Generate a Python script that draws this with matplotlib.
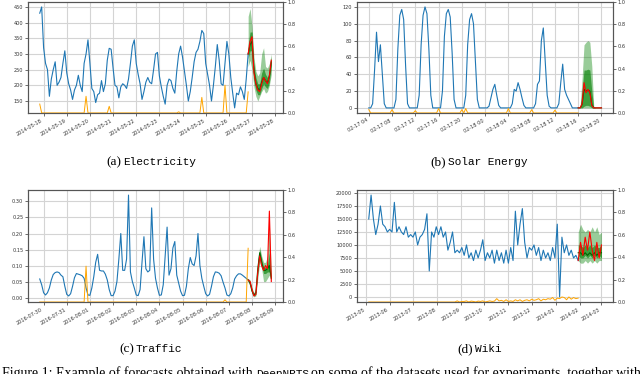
import pandas as pd
import matplotlib.pyplot as plt
import matplotlib.dates as mdates
from matplotlib.ticker import MultipleLocator

# ---- (a) Electricity, 2-hourly ----
elec = [430, 450, 320, 270, 250, 165, 220, 250, 275, 200,
        210, 225, 270, 310, 240, 205, 185, 155, 185, 200,
        232, 200, 180, 270, 300, 345, 270, 190, 180, 145,
        170, 175, 215, 180, 205, 280, 318, 315, 255, 200,
        195, 160, 195, 205, 200, 190, 220, 270, 325, 345,
        270, 235, 205, 155, 180, 210, 225, 210, 205, 250,
        300, 305, 230, 195, 165, 140, 200, 220, 215, 190,
        175, 245, 300, 325, 290, 245, 200, 150, 180, 225,
        275, 305, 315, 340, 375, 365, 270, 235, 200, 150,
        200, 260, 330, 280, 205, 200, 270, 340, 300, 225,
        175, 128, 175, 170, 195, 180, 155, 220, 300]
elec_truth = [300, 340, 355, 240, 205, 185, 180, 205, 225, 215, 205, 230, 280]
elec_med = [300, 330, 340, 250, 205, 190, 185, 210, 225, 215, 208, 228, 275]
elec_hi90 = [420, 445, 390, 290, 245, 230, 240, 300, 320, 260, 255, 270, 300]
elec_lo90 = [260, 280, 250, 195, 165, 150, 165, 180, 190, 175, 180, 200, 235]
elec_hi50 = [330, 370, 370, 265, 225, 205, 205, 240, 255, 235, 225, 245, 290]
elec_lo50 = [285, 310, 310, 215, 185, 170, 170, 190, 205, 195, 190, 210, 260]
elec_attn_at = ['2014-05-17 20:00', '2014-05-19 20:00', '2014-05-20 20:00', '2014-05-23 20:00',
                '2014-05-24 20:00', '2014-05-25 20:00', '2014-05-26 20:00']
elec_attn = [0.08, 0.15, 0.06, 0.01, 0.14, 0.25, 0.19]

# ---- (b) Solar Energy, 20-minute ----
solar = [0, 0, 5, 45, 90, 55, 75, 40, 5, 0, 0, 0, 0, 0,
         10, 70, 110, 117, 105, 50, 5, 0, 0, 0, 0, 0,
         15, 75, 110, 120, 112, 70, 15, 0, 0, 0, 0, 0,
         20, 85, 112, 117, 108, 65, 10, 0, 0, 0, 0, 0,
         15, 75, 105, 112, 100, 55, 10, 0, 0, 0, 0, 0,
         2, 12, 22, 28, 15, 3, 0, 0, 0, 0, 0, 0,
         5, 22, 20, 30, 22, 12, 3, 0, 0, 0, 0, 0,
         5, 28, 32, 80, 95, 55, 15, 2, 0, 0, 0, 0,
         5, 30, 52, 22, 15, 10, 5, 0, 0, 0, 0]
solar_truth = [0, 0, 5, 30, 18, 22, 18, 3, 0, 0, 0, 0, 0]
solar_med = [0, 0, 4, 22, 20, 21, 20, 4, 0, 0, 0, 0, 0]
solar_hi90 = [0, 2, 35, 75, 78, 80, 78, 50, 2, 0, 0, 0, 0]
solar_lo90 = [0, 0, 0, 0, 0, 0, 0, 0, 0, 0, 0, 0, 0]
solar_hi50 = [0, 0, 20, 45, 45, 46, 45, 20, 0, 0, 0, 0, 0]
solar_lo50 = [0, 0, 0, 2, 3, 3, 2, 0, 0, 0, 0, 0, 0]
solar_attn_at = ['2018-02-17 04:00', '2018-02-17 08:00', '2018-02-17 12:00', '2018-02-17 16:00',
                 '2018-02-17 20:00', '2018-02-17 20:40', '2018-02-18 04:00', '2018-02-18 08:00',
                 '2018-02-18 12:00']
solar_attn = [0.03, 0.03, 0.02, 0.04, 0.03, 0.04, 0.04, 0.03, 0.025]

# ---- (c) Traffic, 2-hourly ----
traffic = [0.058, 0.04, 0.015, 0.008, 0.015, 0.03, 0.055, 0.072, 0.078, 0.08,
           0.078, 0.07, 0.065, 0.035, 0.01, 0.005, 0.012, 0.035, 0.062, 0.075,
           0.073, 0.071, 0.068, 0.06, 0.03, 0.008, 0.007, 0.03, 0.065, 0.11,
           0.135, 0.085, 0.083, 0.083, 0.073, 0.055, 0.025, 0.006, 0.006, 0.02,
           0.05, 0.12, 0.2, 0.085, 0.085, 0.12, 0.32, 0.08, 0.05, 0.03,
           0.008, 0.006, 0.025, 0.11, 0.19, 0.09, 0.08, 0.085, 0.28, 0.12,
           0.06, 0.03, 0.007, 0.008, 0.04, 0.13, 0.22, 0.07, 0.09, 0.155,
           0.175, 0.07, 0.045, 0.02, 0.006, 0.007, 0.035, 0.09, 0.125, 0.105,
           0.1, 0.13, 0.2, 0.1, 0.06, 0.035, 0.012, 0.005, 0.01, 0.035,
           0.065, 0.08, 0.079, 0.076, 0.068, 0.048, 0.03, 0.008, 0.005, 0.012,
           0.03, 0.058, 0.068, 0.074, 0.074, 0.07, 0.065, 0.06, 0.055]
traffic_truth = [0.055, 0.05, 0.025, 0.005, 0.01, 0.08, 0.13, 0.1, 0.085, 0.1, 0.09, 0.27, 0.05]
traffic_med = [0.055, 0.045, 0.02, 0.008, 0.015, 0.09, 0.14, 0.11, 0.085, 0.085, 0.09, 0.1, 0.06]
traffic_hi90 = [0.06, 0.055, 0.03, 0.015, 0.03, 0.12, 0.16, 0.13, 0.11, 0.11, 0.13, 0.23, 0.08]
traffic_lo90 = [0.05, 0.035, 0.01, 0.002, 0.005, 0.06, 0.11, 0.09, 0.05, 0.05, 0.06, 0.07, 0.05]
traffic_hi50 = [0.058, 0.05, 0.025, 0.01, 0.02, 0.1, 0.15, 0.12, 0.095, 0.095, 0.1, 0.14, 0.065]
traffic_lo50 = [0.052, 0.04, 0.015, 0.005, 0.01, 0.075, 0.125, 0.1, 0.075, 0.075, 0.08, 0.08, 0.055]
traffic_attn_at = ['2016-07-31 20:00', '2016-08-06 20:00', '2016-08-07 20:00']
traffic_attn = [0.32, 0.02, 0.48]

# ---- (d) Wiki, every 3 days ----
wiki = [15000, 19600, 15000, 12000, 14000, 17500, 14000, 13500, 12500, 13000,
        12500, 18200, 12500, 13500, 12500, 12000, 13500, 11500, 12000, 11500,
        12500, 10000, 11500, 12000, 13000, 16000, 5000, 12500, 11500, 13500,
        12000, 13500, 11500, 12500, 9000, 10500, 12500, 8500, 9000, 8500,
        9500, 8000, 10000, 7500, 8500, 7000, 9000, 7500, 9000, 11000,
        7000, 8500, 7500, 9000, 6500, 9000, 7000, 8500, 6500, 9000,
        6500, 9500, 7000, 16500, 10000, 14000, 17000, 10500, 7500, 9500,
        9000, 10000, 8000, 9500, 7000, 9000, 7500, 8500, 7000, 9500,
        7500, 14000, 0, 11500, 8500, 10000, 8000, 9000, 7500, 8000, 7000]
wiki_truth = [7000, 10500, 8000, 11500, 9000, 12500, 9000, 7000, 10500, 7500, 10000]
wiki_med = [8500, 8500, 8000, 8500, 8000, 8500, 8000, 8500, 8000, 8500, 8500]
wiki_hi90 = [12500, 14000, 13000, 12500, 13000, 12500, 13500, 12500, 13500, 12000, 12500]
wiki_lo90 = [7000, 6500, 6500, 7000, 6500, 7000, 6500, 7000, 6500, 7000, 7000]
wiki_hi50 = [10000, 10000, 9500, 10000, 9500, 10000, 9500, 10000, 9500, 9500, 10000]
wiki_lo50 = [8000, 7500, 7500, 8000, 7500, 8000, 7500, 8000, 7500, 8000, 7500]
wiki_attn = [0.0] * 38 + [
    0.01, 0, 0.005, 0.005, 0.01, 0, 0.008, 0.005, 0, 0.008,
    0.005, 0.01, 0, 0.005, 0.01, 0.005, 0.008, 0.03, 0.01, 0.015,
    0.005, 0.02, 0.005, 0.01, 0.005, 0.02, 0.01, 0.02, 0.005, 0.015,
    0.02, 0.01, 0.025, 0.015, 0.02, 0.03, 0.01, 0.025, 0.02, 0.03,
    0.025, 0.04, 0.015, 0.035, 0.03, 0.045, 0.04, 0.02, 0.045, 0.025,
    0.04, 0.03, 0.035]

fig = plt.figure(figsize=(6.4, 3.74), dpi=100)


def spikes(dates, at, vals):
    s = pd.Series(0.0, index=dates)
    s[pd.to_datetime(at)] = vals
    return s


def panel(rect, start, freq, hist, truth, med, lo90, hi90, lo50, hi50, attn,
          locator, fmt, ystep):
    dates = pd.date_range(start, periods=len(hist), freq=freq)
    fdates = pd.date_range(dates[-1], periods=len(truth), freq=freq)
    ax = fig.add_axes(rect)
    ax.plot(dates, hist, color='#1f77b4', lw=0.8)
    ax.fill_between(fdates, lo90, hi90, color='green', alpha=0.4, lw=0)
    ax.fill_between(fdates, lo50, hi50, color='green', alpha=0.6, lw=0)
    ax.plot(fdates, med, color='darkgreen', lw=0.8)
    ax.plot(fdates, truth, color='red', lw=0.8)
    ax.grid(color='#d4d4d4', lw=0.8)
    ax.set_axisbelow(True)
    ax.yaxis.set_major_locator(MultipleLocator(ystep))
    ax.xaxis.set_major_locator(locator)
    ax.xaxis.set_major_formatter(mdates.DateFormatter(fmt))
    ax2 = ax.twinx()
    if not isinstance(attn, pd.Series):
        attn = pd.Series(attn, index=dates)
    ax2.plot(attn.index, attn.values, color='orange', lw=0.7)
    ax2.set_ylim(0, 1)
    for a in (ax, ax2):
        a.tick_params(labelsize=3.6, length=2, width=0.5, pad=1.5, colors='#333333')
        for sp in a.spines.values():
            sp.set_color('#555555')
            sp.set_linewidth(0.8)
    plt.setp(ax.get_xticklabels(), rotation=30, ha='right')
    return ax


d_elec = pd.date_range('2014-05-17 20:00', periods=len(elec), freq='2h')
d_solar = pd.date_range('2018-02-17 04:00', periods=len(solar), freq='20min')
d_traffic = pd.date_range('2016-07-29 20:00', periods=len(traffic), freq='2h')

panel([0.044, 0.698, 0.398, 0.297], '2014-05-17 20:00', '2h', elec, elec_truth, elec_med,
      elec_lo90, elec_hi90, elec_lo50, elec_hi50, spikes(d_elec, elec_attn_at, elec_attn),
      mdates.DayLocator(), '%Y-%m-%d', 50)
panel([0.558, 0.698, 0.4, 0.297], '2018-02-17 04:00', '20min', solar, solar_truth, solar_med,
      solar_lo90, solar_hi90, solar_lo50, solar_hi50, spikes(d_solar, solar_attn_at, solar_attn),
      mdates.HourLocator(byhour=range(0, 24, 4)), '%m-%d %H', 20)
panel([0.044, 0.1925, 0.398, 0.2995], '2016-07-29 20:00', '2h', traffic, traffic_truth, traffic_med,
      traffic_lo90, traffic_hi90, traffic_lo50, traffic_hi50,
      spikes(d_traffic, traffic_attn_at, traffic_attn),
      mdates.DayLocator(), '%Y-%m-%d', 0.05)
panel([0.558, 0.1925, 0.4, 0.2995], '2013-05-05', '3D', wiki, wiki_truth, wiki_med,
      wiki_lo90, wiki_hi90, wiki_lo50, wiki_hi50, wiki_attn,
      mdates.MonthLocator(), '%Y-%m', 2500)

# sub-captions: serif letter + typewriter dataset name
serif = 'Liberation Serif'
mono = 'Liberation Mono'
caps = [(121, 162, '(a)', 'Electricity'), (446, 162, '(b)', 'Solar Energy'),
        (134, 349, '(c)', 'Traffic'), (473, 349, '(d)', 'Wiki')]
for x, y, tag, name in caps:
    fig.text(x / 640, 1 - y / 374, tag, ha='right', va='center', family=serif, fontsize=9.5)
    fig.text((x + 2) / 640, 1 - y / 374, name, ha='left', va='center', family=mono, fontsize=8)

# main caption, cut by the bottom edge as in the page crop
fig.text(253 / 640, -0.007, 'Figure 1: Example of forecasts obtained with', ha='right',
         va='baseline', family=serif, fontsize=10)
fig.text(256 / 640, -0.007, 'DeepNPTS', ha='left', va='baseline', family=mono, fontsize=8)
fig.text(311 / 640, -0.007, 'on some of the datasets used for experiments, together with',
         ha='left', va='baseline', family=serif, fontsize=10)

fig.savefig('out.png', dpi=100)
